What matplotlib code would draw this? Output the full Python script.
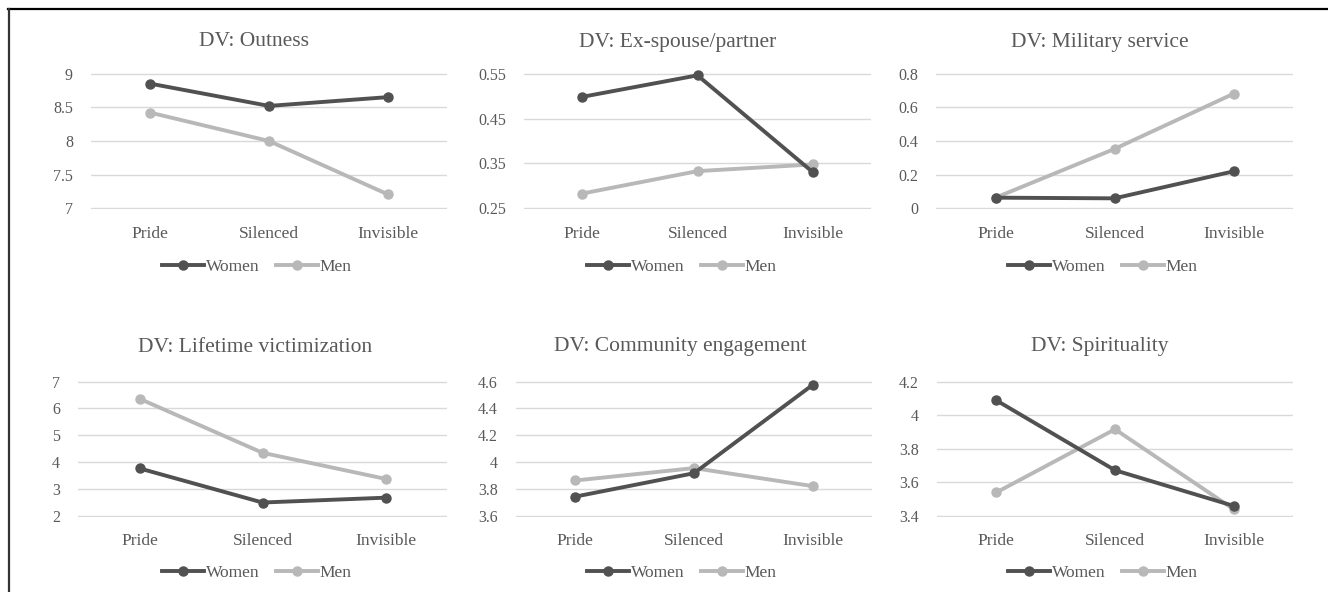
import numpy as np
import pandas as pd
import matplotlib.pyplot as plt
from matplotlib.lines import Line2D

plt.rcParams['font.family'] = ['Liberation Serif', 'DejaVu Serif']

# Data
groups = ['Pride', 'Silenced', 'Invisible']

outness_women = [8.85, 8.52, 8.65]
outness_men = [8.42, 8.0, 7.21]

exspouse_women = [0.498, 0.546, 0.330]
exspouse_men = [0.283, 0.333, 0.348]

military_women = [0.064, 0.060, 0.220]
military_men = [0.064, 0.353, 0.680]

victim_women = [3.77, 2.50, 2.68]
victim_men = [6.36, 4.35, 3.38]

community_women = [3.744, 3.918, 4.575]
community_men = [3.864, 3.956, 3.822]

spirit_women = [4.088, 3.672, 3.460]
spirit_men = [3.540, 3.916, 3.440]

titles = ['DV: Outness', 'DV: Ex-spouse/partner', 'DV: Military service',
          'DV: Lifetime victimization', 'DV: Community engagement', 'DV: Spirituality']
yticks = [[7, 7.5, 8, 8.5, 9],
          [0.25, 0.35, 0.45, 0.55],
          [0, 0.2, 0.4, 0.6, 0.8],
          [2, 3, 4, 5, 6, 7],
          [3.6, 3.8, 4, 4.2, 4.4, 4.6],
          [3.4, 3.6, 3.8, 4, 4.2]]
ytick_labels = [['7', '7.5', '8', '8.5', '9'],
                ['0.25', '0.35', '0.45', '0.55'],
                ['0', '0.2', '0.4', '0.6', '0.8'],
                ['2', '3', '4', '5', '6', '7'],
                ['3.6', '3.8', '4', '4.2', '4.4', '4.6'],
                ['3.4', '3.6', '3.8', '4', '4.2']]
women = [outness_women, exspouse_women, military_women, victim_women, community_women, spirit_women]
men = [outness_men, exspouse_men, military_men, victim_men, community_men, spirit_men]

# Layout in pixels: (left, right) of plot area, title x, legend x
W, H = 1328, 592
plot_x = [(91, 447), (524, 871), (936, 1293), (78, 447), (516, 872), (937, 1293)]
plot_y = [(73, 209), (73, 209), (73, 209), (381, 516.5), (381, 516.5), (381, 516.5)]
title_pos = [(254, 42), (678, 42), (1100, 42), (255, 347), (680, 347), (1100, 347)]
legend_pos = [(257, 267), (682, 267), (1103, 267), (257, 573), (682, 573), (1103, 573)]

c_women, c_men = '#515151', '#b8b8b8'
c_text, c_grid = '#595959', '#d9d9d9'

fig = plt.figure(figsize=(W / 100, H / 100), dpi=100)

for i in range(6):
    x0, x1 = plot_x[i]
    y0, y1 = plot_y[i]
    ax = fig.add_axes([x0 / W, 1 - y1 / H, (x1 - x0) / W, (y1 - y0) / H])
    xs = np.arange(len(groups))
    ax.plot(xs, women[i], color=c_women, lw=2.8, marker='o', ms=6.5, label='Women', zorder=3, clip_on=False)
    ax.plot(xs, men[i], color=c_men, lw=2.8, marker='o', ms=6.5, label='Men', zorder=2, clip_on=False)
    ax.set_xlim(-0.5, 2.5)
    lo, hi = yticks[i][0], yticks[i][-1]
    eps = (hi - lo) * 0.004
    ax.set_ylim(lo - eps, hi + eps)
    ax.set_yticks(yticks[i])
    ax.set_yticklabels(ytick_labels[i])
    ax.set_xticks(xs)
    ax.set_xticklabels(groups)
    ax.grid(axis='y', color=c_grid, lw=1)
    ax.set_axisbelow(True)
    for s in ax.spines.values():
        s.set_visible(False)
    ax.tick_params(axis='both', length=0, colors=c_text)
    ax.tick_params(axis='x', pad=12, labelsize=12.5)
    ax.tick_params(axis='y', pad=13, labelsize=11.5)

    # Title and legend in figure coords
    tx, ty = title_pos[i]
    fig.text(tx / W, 1 - ty / H, titles[i], ha='center', va='center', fontsize=15.5, color=c_text)
    lx, ly = legend_pos[i]
    ax.legend(loc='center', bbox_to_anchor=(lx / W, 1 - ly / H), bbox_transform=fig.transFigure,
              ncol=2, frameon=False, fontsize=12.5, handlelength=2.4, handletextpad=0.1,
              columnspacing=1.0, labelcolor=c_text, borderpad=0)

# Border (top and left only)
fig.add_artist(Line2D([8 / W, 1], [1 - 9 / H, 1 - 9 / H], color='black', lw=1.6))
fig.add_artist(Line2D([8.5 / W, 8.5 / W], [0, 1 - 9 / H], color='#333333', lw=1.6))

plt.savefig('out.png', dpi=100)
